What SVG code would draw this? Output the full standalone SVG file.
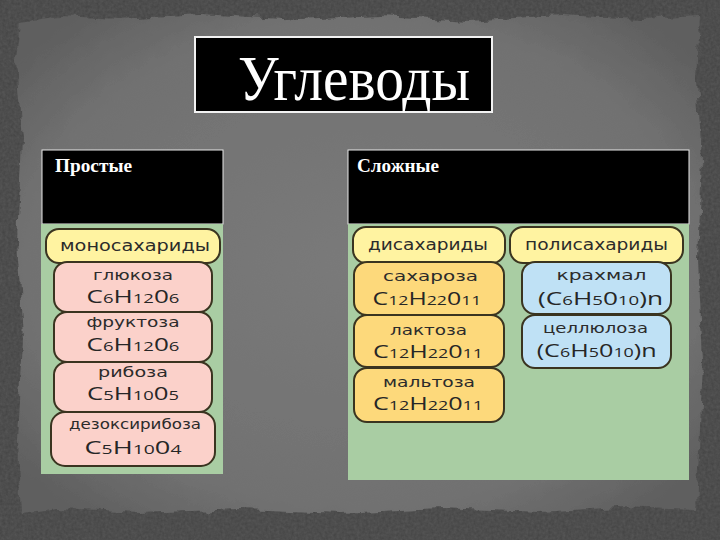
<svg xmlns="http://www.w3.org/2000/svg" width="720" height="540" viewBox="0 0 720 540">
<defs>
<radialGradient id="paper" cx="50%" cy="50%" r="65%">
<stop offset="0" stop-color="#7a7a7a"/>
<stop offset="0.75" stop-color="#717171"/>
<stop offset="1" stop-color="#5e5e5e"/>
</radialGradient>
<filter id="rough" x="-5%" y="-5%" width="110%" height="110%">
<feTurbulence type="fractalNoise" baseFrequency="0.06" numOctaves="3" seed="4" result="n"/>
<feDisplacementMap in="SourceGraphic" in2="n" scale="10" xChannelSelector="R" yChannelSelector="G"/>
</filter>
<filter id="grain" x="0" y="0" width="100%" height="100%">
<feTurbulence type="fractalNoise" baseFrequency="0.35" numOctaves="2" seed="9" result="t"/>
<feColorMatrix in="t" type="matrix" values="0 0 0 0 0.25  0 0 0 0 0.25  0 0 0 0 0.25  0 0 0 0.5 0"/>
</filter>
</defs>
<style>
.lbl{font-family:"DejaVu Sans","Verdana",sans-serif;font-size:14px;fill:#2b2b2b;text-anchor:middle}
.hdr{font-family:"DejaVu Sans","Verdana",sans-serif;font-size:16px;fill:#2b2b2b;text-anchor:middle}
.f{font-family:"Open Sans","Noto Sans",sans-serif;font-size:19px;fill:#262626;text-anchor:middle}
.s{font-size:13.5px}
.pill{stroke:#3a3420;stroke-width:2}
.yel{fill:#fff3a1}
.pink{fill:#fbd1ca}
.org{fill:#fdd97b}
.blu{fill:#bfe1f5}
.green{fill:#a9cda3}
.blk{fill:#000;stroke:#e8e8e8;stroke-width:1}
.cap{font-family:"Liberation Serif","Times New Roman",serif;font-weight:bold;font-size:18px;fill:#fff}
</style>
<rect x="0" y="0" width="720" height="540" fill="#434343"/>
<rect x="0" y="0" width="720" height="540" filter="url(#grain)" opacity="0.6"/>
<path filter="url(#rough)" fill="url(#paper)" d="M20,22 L60,16 L120,19 L200,14 L300,20 L380,16 L470,21 L560,15 L640,19 L700,16 L697,80 L702,160 L698,260 L703,360 L699,450 L696,510 L620,507 L540,512 L440,508 L340,513 L240,509 L140,513 L60,509 L22,514 L18,440 L23,340 L17,240 L22,140 L16,60 Z"/>

<g id="title">
<rect x="195" y="37" width="297" height="75" fill="#000" stroke="#f2f2f2" stroke-width="2"/>
<text x="238" y="100" font-family="Liberation Serif,'Times New Roman',serif" font-size="64" fill="#fff" textLength="232" lengthAdjust="spacingAndGlyphs">Углеводы</text>
</g>

<g id="connectors"></g>

<g id="simple">
<rect x="42" y="150" width="181" height="74" class="blk"/>
<text x="55" y="172" class="cap" textLength="77" lengthAdjust="spacingAndGlyphs">Простые</text>
<rect x="41" y="224" width="182" height="250" class="green"/>
</g>

<g id="complex">
<rect x="348" y="150" width="341" height="74" class="blk"/>
<text x="357" y="172" class="cap" textLength="82" lengthAdjust="spacingAndGlyphs">Сложные</text>
<rect x="348" y="224" width="341" height="256" class="green"/>
</g>

<g id="mono">
<rect x="46" y="229" width="174" height="34" rx="13" class="pill yel"/>
<text x="135" y="251" class="hdr" textLength="150" lengthAdjust="spacingAndGlyphs">моносахариды</text>
</g>
<g id="glucose">
<rect x="54" y="262" width="158" height="50" rx="13" class="pill pink"/>
<text x="133" y="280" class="lbl" textLength="80" lengthAdjust="spacingAndGlyphs">глюкоза</text>
<text x="133" y="303" class="f" textLength="93" lengthAdjust="spacingAndGlyphs">C<tspan class="s">6</tspan>H<tspan class="s">12</tspan>0<tspan class="s">6</tspan></text>
</g>
<g id="fructose">
<rect x="54" y="312" width="158" height="50" rx="13" class="pill pink"/>
<text x="133" y="327" class="lbl" textLength="93" lengthAdjust="spacingAndGlyphs">фруктоза</text>
<text x="133" y="351" class="f" textLength="93" lengthAdjust="spacingAndGlyphs">C<tspan class="s">6</tspan>H<tspan class="s">12</tspan>0<tspan class="s">6</tspan></text>
</g>
<g id="ribose">
<rect x="54" y="362" width="158" height="50" rx="13" class="pill pink"/>
<text x="133" y="377" class="lbl" textLength="70" lengthAdjust="spacingAndGlyphs">рибоза</text>
<text x="133" y="400" class="f" textLength="92" lengthAdjust="spacingAndGlyphs">C<tspan class="s">5</tspan>H<tspan class="s">10</tspan>0<tspan class="s">5</tspan></text>
</g>
<g id="deoxyribose">
<rect x="51" y="412" width="164" height="54" rx="14" class="pill pink"/>
<text x="135" y="429" class="lbl" textLength="132" lengthAdjust="spacingAndGlyphs">дезоксирибоза</text>
<text x="133" y="454" class="f" textLength="97" lengthAdjust="spacingAndGlyphs">C<tspan class="s">5</tspan>H<tspan class="s">10</tspan>0<tspan class="s">4</tspan></text>
</g>

<g id="di">
<rect x="353" y="227" width="152" height="36" rx="13" class="pill yel"/>
<text x="428" y="250" class="hdr" textLength="120" lengthAdjust="spacingAndGlyphs">дисахариды</text>
</g>
<g id="poly">
<rect x="510" y="227" width="173" height="36" rx="13" class="pill yel"/>
<text x="596.5" y="250" class="hdr" textLength="143" lengthAdjust="spacingAndGlyphs">полисахариды</text>
</g>
<g id="sucrose">
<rect x="354" y="262" width="150" height="53" rx="13" class="pill org"/>
<text x="430.5" y="280.5" class="lbl" textLength="95" lengthAdjust="spacingAndGlyphs">сахароза</text>
<text x="427" y="305" class="f" textLength="109" lengthAdjust="spacingAndGlyphs">C<tspan class="s">12</tspan>H<tspan class="s">22</tspan>0<tspan class="s">11</tspan></text>
</g>
<g id="lactose">
<rect x="354" y="315" width="150" height="52" rx="13" class="pill org"/>
<text x="428.5" y="335" class="lbl" textLength="77" lengthAdjust="spacingAndGlyphs">лактоза</text>
<text x="428" y="358.3" class="f" textLength="110" lengthAdjust="spacingAndGlyphs">C<tspan class="s">12</tspan>H<tspan class="s">22</tspan>0<tspan class="s">11</tspan></text>
</g>
<g id="maltose">
<rect x="354" y="368" width="150" height="54" rx="13" class="pill org"/>
<text x="429" y="387.3" class="lbl" textLength="92" lengthAdjust="spacingAndGlyphs">мальтоза</text>
<text x="428" y="410" class="f" textLength="110" lengthAdjust="spacingAndGlyphs">C<tspan class="s">12</tspan>H<tspan class="s">22</tspan>0<tspan class="s">11</tspan></text>
</g>
<g id="starch">
<rect x="522" y="262" width="149" height="52" rx="13" class="pill blu"/>
<text x="601.5" y="280" class="lbl" textLength="90" lengthAdjust="spacingAndGlyphs">крахмал</text>
<text x="600.5" y="305" class="f" textLength="125" lengthAdjust="spacingAndGlyphs">(C<tspan class="s">6</tspan>H<tspan class="s">5</tspan>0<tspan class="s">10</tspan>)n</text>
</g>
<g id="cellulose">
<rect x="522" y="315" width="149" height="53" rx="13" class="pill blu"/>
<text x="595.5" y="333.3" class="lbl" textLength="105" lengthAdjust="spacingAndGlyphs">целлюлоза</text>
<text x="596.7" y="356.7" class="f" textLength="120" lengthAdjust="spacingAndGlyphs">(C<tspan class="s">6</tspan>H<tspan class="s">5</tspan>0<tspan class="s">10</tspan>)n</text>
</g>
</svg>
